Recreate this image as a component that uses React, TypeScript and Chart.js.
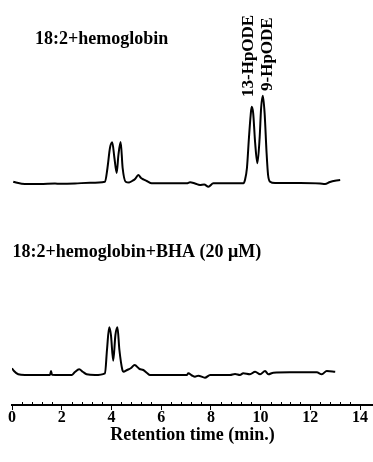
import React, { useEffect, useRef } from "react";
import { Chart, registerables } from "chart.js";

Chart.register(...registerables);

// Retention time (min) and detector signal (relative units, baseline = 0)
const TOP_TIME = [
  0.05, 0.16, 0.52, 1.13, 1.73, 1.93, 2.53, 3.14, 3.74, 3.84, 3.94, 4.03, 4.12, 4.21, 4.28, 4.37, 4.45, 4.57,
  4.71, 4.83, 4.95, 5.08, 5.19, 5.28, 5.42, 5.62, 6.36, 7.03, 7.16, 7.36, 7.56, 7.73, 7.9, 8.1, 9.31, 9.37,
  9.45, 9.53, 9.6, 9.64, 9.7, 9.78, 9.87, 9.96, 10.02, 10.09, 10.16, 10.24, 10.3, 10.38, 10.58, 11.59, 12.39,
  12.59, 12.79, 12.99, 13.2,
];
const TOP_SIGNAL = [
  1.3, 0.5, -1, -1, -0.5, -0.8, -0.5, 0.3, 1.3, 15, 35, 40.7, 25, 10, 28, 41, 15, 1.3,
  0.5, 2, 4, 8, 5, 3.7, 2, -0.3, -0.3, -0.3, 0.7, -0.5, -2, -1.5, -3.7, -0.3, -0.3, 3,
  15, 45, 68, 76.3, 70, 40, 19.7, 45, 75, 87.3, 70, 30, 8, 1.3, 0, 0, -0.5,
  -1, 1, 2.3, 3,
];

const BOTTOM_TIME = [
  0.0, 0.08, 0.25, 0.52, 1.46, 1.53, 1.57, 1.61, 1.93, 2.4, 2.53, 2.7, 2.86, 3.0, 3.34, 3.74, 3.82, 3.91,
  3.98, 4.07, 4.16, 4.24, 4.32, 4.44, 4.48, 4.63, 4.79, 4.93, 5.13, 5.28, 5.43, 5.55, 6.16, 7.03, 7.09, 7.24,
  7.36, 7.49, 7.76, 7.97, 8.77, 8.97, 9.17, 9.3, 9.57, 9.78, 9.98, 10.18, 10.31, 10.51, 11.18, 12.26, 12.46,
  12.66, 13.0,
];
const BOTTOM_SIGNAL = [
  6.7, 4, 0.7, 0, 0, 0.2, 4, 0.3, 0, 0, 3, 5.7, 3, 0.7, 0, 1.7, 25, 47.7,
  40, 14.3, 40, 47.7, 25, 5, 3.3, 5, 7, 10, 6, 5, 2, 0, 0, 0, 1.7, -0.5,
  -1.7, -0.7, -2.7, 0, 0, 1, 0, 1.7, 0.7, 3.3, 0.7, 4, 0.7, 2.3, 2.7, 2.7, 0.7,
  4, 3.3,
];

// vertical stacking offsets of the two chromatograms
const TOP_OFFSET = 222;
const BOTTOM_OFFSET = 30;

const X_TICK_LABELS = ["0", "2", "4", "6", "8", "10", "12", "14"];
const X_TITLE = "Retention time (min.)";
const TOP_LABEL = "18:2+hemoglobin";
const BOTTOM_LABEL = "18:2+hemoglobin+BHA (20 \u03bcM)";
const PEAK_LABELS = ["13-HpODE", "9-HpODE"];

const FONT = '"Liberation Serif", "Times New Roman", serif';

const isMajor = (v: number) => Math.abs(v / 2 - Math.round(v / 2)) < 1e-6;

export default function App() {
  const ref = useRef<HTMLCanvasElement | null>(null);

  useEffect(() => {
    if (!ref.current) return;
    const toPts = (t: number[], s: number[], off: number) =>
      t.map((x, i) => ({ x, y: s[i] + off }));

    const annotate = {
      id: "annotate",
      afterDraw(chart: any) {
        const ctx = chart.ctx;
        const xs = chart.scales.x;
        ctx.save();
        ctx.fillStyle = "#000";
        ctx.font = `bold 18px ${FONT}`;
        ctx.textAlign = "left";
        ctx.textBaseline = "alphabetic";
        ctx.fillText(TOP_LABEL, 35, 44);
        ctx.fillText(BOTTOM_LABEL, 12.5, 257);
        // rotated peak labels
        ctx.font = `bold 17px ${FONT}`;
        const rot = (text: string, x: number, y: number) => {
          ctx.save();
          ctx.translate(x, y);
          ctx.rotate(-Math.PI / 2);
          ctx.fillText(text, 0, 0);
          ctx.restore();
        };
        rot(PEAK_LABELS[0], 252.5, 97);
        rot(PEAK_LABELS[1], 272, 91);
        // minor ticks above the axis line
        ctx.strokeStyle = "#000";
        ctx.lineWidth = 1;
        const yb = xs.top;
        xs.ticks.forEach((t: any) => {
          if (isMajor(t.value)) return;
          const px = Math.round(xs.getPixelForValue(t.value)) + 0.5;
          ctx.beginPath();
          ctx.moveTo(px, yb);
          ctx.lineTo(px, yb - 3);
          ctx.stroke();
        });
        ctx.restore();
      },
    };

    const chart = new Chart(ref.current, {
      type: "line",
      data: {
        datasets: [
          {
            data: toPts(TOP_TIME, TOP_SIGNAL, TOP_OFFSET),
            borderColor: "#000",
            borderWidth: 2,
            pointRadius: 0,
            cubicInterpolationMode: "monotone",
          },
          {
            data: toPts(BOTTOM_TIME, BOTTOM_SIGNAL, BOTTOM_OFFSET),
            borderColor: "#000",
            borderWidth: 2,
            pointRadius: 0,
            cubicInterpolationMode: "monotone",
          },
        ],
      },
      options: {
        animation: false,
        responsive: false,
        events: [],
        layout: { padding: { left: 12, right: 0, top: 0, bottom: 18 } },
        plugins: { legend: { display: false }, tooltip: { enabled: false } },
        scales: {
          x: {
            type: "linear",
            min: 0,
            max: 14.52,
            afterBuildTicks(scale: any) {
              scale.ticks = scale.ticks.filter(
                (t: any) => Math.abs(t.value / 0.4 - Math.round(t.value / 0.4)) < 1e-6
              );
            },
            ticks: {
              stepSize: 0.4,
              autoSkip: false,
              maxRotation: 0,
              padding: 0,
              color: "#000",
              font: { family: FONT, size: 16, weight: "bold", lineHeight: 1 },
              callback: (v: any) => {
                const n = Number(v);
                if (!isMajor(n)) return "";
                return X_TICK_LABELS[Math.round(n / 2)] ?? "";
              },
            },
            grid: {
              drawOnChartArea: false,
              drawTicks: true,
              tickLength: 5,
              tickWidth: 1,
              tickColor: (c: any) => (c.tick && isMajor(c.tick.value) ? "#000" : "rgba(0,0,0,0)"),
            },
            border: { display: true, color: "#000", width: 2 },
            title: {
              display: true,
              text: X_TITLE,
              color: "#000",
              font: { family: FONT, size: 18, weight: "bold", lineHeight: 1 },
              padding: { top: 0, bottom: 0 },
            },
          },
          y: { display: false, min: 0, max: 405 },
        },
      },
      plugins: [annotate],
    } as any);
    return () => chart.destroy();
  }, []);

  return (
    <div style={{ position: "absolute", left: 0, top: 0, width: 373, height: 462, background: "#fff" }}>
      <canvas ref={ref} width={373} height={462} />
    </div>
  );
}
